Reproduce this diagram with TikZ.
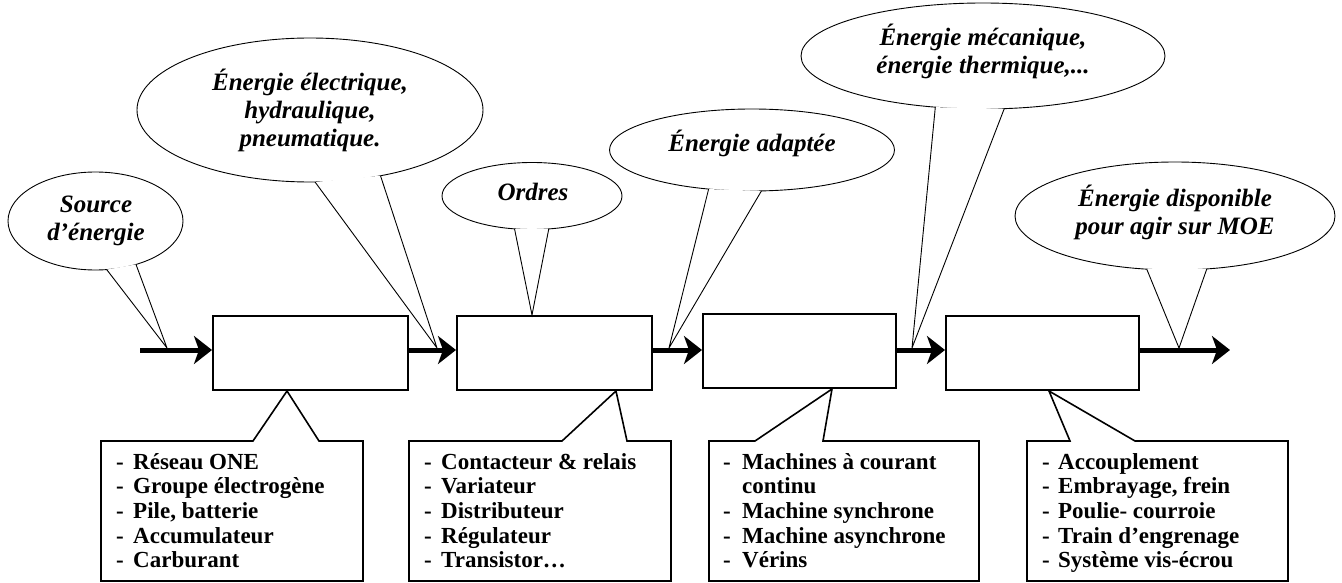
\documentclass[tikz,border=0pt]{standalone}
\usepackage{fontspec}
\setmainfont{Liberation Serif}
\usetikzlibrary{arrows.meta,shapes.geometric,calc}
\begin{document}
\begin{tikzpicture}[x=1pt,y=-1pt,
  bubble/.style={ellipse,draw,line width=0.9pt,fill=white,inner sep=0pt,outer sep=0pt},
  btxt/.style={inner sep=0pt,align=center,font=\fontsize{25}{28}\selectfont\bfseries\itshape},
  blk/.style={draw,line width=2pt,minimum width=195pt,minimum height=74pt,inner sep=0pt},
  note/.style={minimum height=140pt,inner sep=0pt,outer sep=0pt},
  notetxt/.style={anchor=base west,inner sep=0pt,align=left,font=\fontsize{23}{24.7}\selectfont\bfseries},
  flow/.style={line width=5pt,-{Stealth[length=18pt,width=28pt,inset=5pt]}},
  tail/.style={line width=0.9pt,line join=miter},
  ntail/.style={line width=1.6pt,line join=miter}
]
\useasboundingbox (0,0) rectangle (1342,583);

% main blocks
\node[blk] (b1) at (310.5,353) {};
\node[blk] (b2) at (554.5,353) {};
\node[blk,minimum width=193pt] (b3) at (799.5,351) {};
\node[blk,minimum width=193pt] (b4) at (1042.5,353) {};

\coordinate (y0) at (0,350);
\coordinate (s0) at (140,350);
\coordinate (s5) at (1230,350);

% bubbles
\node[bubble,minimum width=175pt,minimum height=98pt] (e1) at (95.5,221) {};
\node[btxt] (e1t) at (96,221) {Source\\d’énergie};
\node[bubble,minimum width=346pt,minimum height=144pt] (e2) at (310,110) {};
\node[btxt] (e2t) at (310,110) {Énergie électrique,\\hydraulique,\\pneumatique.};
\node[bubble,minimum width=180pt,minimum height=67pt] (e3) at (532,196) {};
\node[btxt] (e3t) at (533,192) {Ordres};
\node[bubble,minimum width=285pt,minimum height=82pt] (e4) at (752,150) {};
\node[btxt] (e4t) at (752,143) {Énergie adaptée};
\node[bubble,minimum width=364pt,minimum height=106pt] (e5) at (983,56) {};
\node[btxt] (e5t) at (983,51) {Énergie mécanique,\\énergie thermique,...};
\node[bubble,minimum width=320pt,minimum height=108pt] (e6) at (1175,216) {};
\node[btxt] (e6t) at (1175,212) {Énergie disponible\\pour agir sur MOE};

% tail tips
\coordinate (t1) at (167,348);
\coordinate (t2) at (437,348);
\coordinate (t3) at ([xshift=-22.5pt]b2.north);
\coordinate (t4) at (669,348);
\coordinate (t5) at (912,348);
\coordinate (t6) at (1179,348);

\foreach \e/\t/\a/\b in {e1/t1/283/313.7, e2/t2/274.8/317.6, e3/t3/242.7/297.3, e4/t4/222.3/283.7, e5/t5/227.3/292.5, e6/t6/242.2/301.1}{
  \fill[white] (\e.\a) -- (\t) -- (\e.\b) -- cycle;
  \draw[tail] (\e.\a) -- (\t) -- (\e.\b);
}

% flow arrows
\draw[flow] (s0) -- (b1.west |- y0);
\draw[flow] (b1.east |- y0) -- (b2.west |- y0);
\draw[flow] (b2.east |- y0) -- (b3.west |- y0);
\draw[flow] (b3.east |- y0) -- (b4.west |- y0);
\draw[flow] (b4.east |- y0) -- (s5);

% bottom notes
\node[note,minimum width=262pt] (n1) at (232,511) {};
\node[note,minimum width=262pt] (n2) at (540,511) {};
\node[note,minimum width=270pt] (n3) at (844,511) {};
\node[note,minimum width=261pt] (n4) at (1157.5,511) {};

\coordinate (u1) at ([xshift=-23.5pt]b1.south);
\coordinate (u2) at ([xshift=61.5pt]b2.south);
\coordinate (u3) at ([xshift=32.5pt]b3.south);
\coordinate (u4) at ([xshift=6.5pt]b4.south);

\foreach \n/\u/\a/\b in {n1/u1/152/218, n2/u2/153/218, n3/u3/46/114, n4/u4/43/108}{
  \draw[ntail] (\n.north west) -- ([xshift=\a pt]\n.north west) -- (\u) -- ([xshift=\b pt]\n.north west) -- (\n.north east) -- (\n.south east) -- (\n.south west) -- cycle;
}

% text nodes: base anchor = baseline of last line (first baseline at top+28)
\node[notetxt] (n1t) at ($(n1.north west)+(15,126.8)$) {\makebox[17pt][l]{-}Réseau ONE\\\makebox[17pt][l]{-}Groupe électrogène\\\makebox[17pt][l]{-}Pile, batterie\\\makebox[17pt][l]{-}Accumulateur\\\makebox[17pt][l]{-}Carburant};
\node[notetxt] (n2t) at ($(n2.north west)+(15,126.8)$) {\makebox[17pt][l]{-}Contacteur \& relais\\\makebox[17pt][l]{-}Variateur\\\makebox[17pt][l]{-}Distributeur\\\makebox[17pt][l]{-}Régulateur\\\makebox[17pt][l]{-}Transistor…};
\node[notetxt] (n3t) at ($(n3.north west)+(14,126.8)$) {\makebox[19pt][l]{-}Machines à courant\\\makebox[19pt][l]{}continu\\\makebox[19pt][l]{-}Machine synchrone\\\makebox[19pt][l]{-}Machine asynchrone\\\makebox[19pt][l]{-}Vérins};
\node[notetxt] (n4t) at ($(n4.north west)+(15,126.8)$) {\makebox[16pt][l]{-}Accouplement\\\makebox[16pt][l]{-}Embrayage, frein\\\makebox[16pt][l]{-}Poulie- courroie\\\makebox[16pt][l]{-}Train d’engrenage\\\makebox[16pt][l]{-}Système vis-écrou};
\end{tikzpicture}
\end{document}
